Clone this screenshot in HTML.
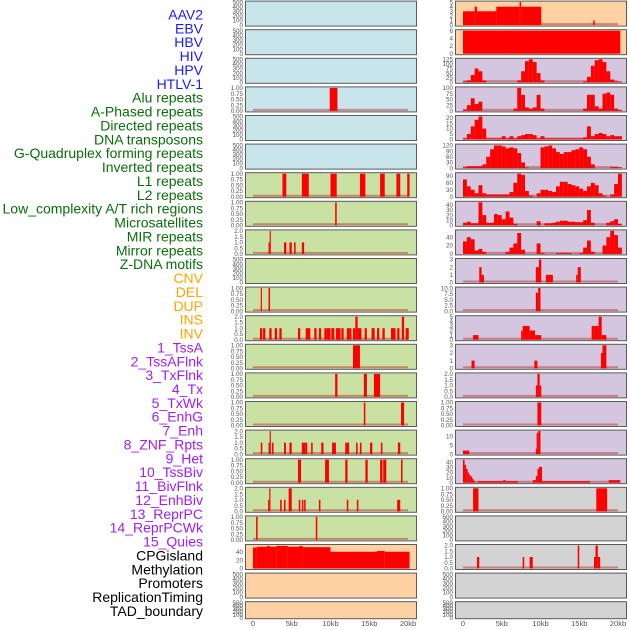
<!DOCTYPE html>
<html><head><meta charset="utf-8"><style>
html,body{margin:0;padding:0;background:#fff;width:630px;height:630px;overflow:hidden}
svg{display:block}
text{font-family:"Liberation Sans",sans-serif}
</style></head><body>
<svg id="chart" width="630" height="630" viewBox="0 0 630 630"></svg>
<script>
// ---------- DATA ----------
const trackLabels = ["AAV2","EBV","HBV","HIV","HPV","HTLV-1","Alu repeats","A-Phased repeats","Directed repeats","DNA transposons","G-Quadruplex forming repeats","Inverted repeats","L1 repeats","L2 repeats","Low_complexity A/T rich regions","Microsatellites","MIR repeats","Mirror repeats","Z-DNA motifs","CNV","DEL","DUP","INS","INV","1_TssA","2_TssAFlnk","3_TxFlnk","4_Tx","5_TxWk","6_EnhG","7_Enh","8_ZNF_Rpts","9_Het","10_TssBiv","11_BivFlnk","12_EnhBiv","13_ReprPC","14_ReprPCWk","15_Quies","CPGisland","Methylation","Promoters","ReplicationTiming","TAD_boundary"];
const labelGroups = [6,13,5,15,5];
const xTickLabels = ["0","5kb","10kb","15kb","20kb"];
const xTickValues = [0,5,10,15,20];

const emptyTicks = ["0","100","200","300","400","500"];
const unitTicks = ["0.00","0.25","0.50","0.75","1.00"];
const twoTicks = ["0.0","0.5","1.0","1.5","2.0"];

const leftMax = [500,500,500,1,500,500,1,1,2,500,1,2,1,1,1,2,1,2,1,55,500,500];
const leftTicks = [emptyTicks,emptyTicks,emptyTicks,unitTicks,emptyTicks,emptyTicks,unitTicks,unitTicks,twoTicks,emptyTicks,unitTicks,twoTicks,unitTicks,unitTicks,unitTicks,twoTicks,unitTicks,twoTicks,unitTicks,["0","20","40"],emptyTicks,emptyTicks];
const leftSegs3 = [[9.9,10.9,1]];
const leftSegs6 = [[3.8,4.3,1],[6.3,7.2,1],[10.0,10.8,1],[13.8,14.5,1],[16.4,17.0,1],[18.5,19.0,1],[19.9,20.2,1]];
const leftSegs7 = [[10.6,10.8,1]];
const leftSegs8 = [[2.0,2.15,1],[2.15,2.3,2],[4.0,4.3,1],[4.7,5.0,1],[5.3,5.5,1],[6.3,6.6,1]];
const leftSegs10 = [[1.0,1.15,1],[2.0,2.2,1]];
const leftBars11 = [0.9,1.3,2.1,2.8,3.4,5.8,6.8,7.1,7.9,8.5,9.2,9.5,9.7,10.1,10.2,10.7,10.8,11.0,11.4,12.1,12.4,12.9,13.2,13.5,13.7,14.4,15.3,15.4,16.0,16.7,17.8,17.9,18.1,18.6,19.2,19.7,19.8];
const leftVals11 = [1,1,1,1,1,1,1,1,1,1,1,1,1,1,1,1,1,1,1,1,1,1,2,1,1,1,1,1,1,1,1,1,1,1,2,1,1];
const leftSegs12 = [[12.9,13.8,1]];
const leftSegs13 = [[10.6,10.9,1],[14.3,14.7,1],[15.6,16.4,1]];
const leftSegs14 = [[14.3,14.5,1],[19.1,19.5,1]];
const leftSegs15 = [[1.0,1.2,1],[2.0,2.15,1],[2.15,2.3,2],[2.45,2.65,1],[4.0,4.25,1],[4.7,5.0,1],[6.3,6.8,1],[6.8,7.0,1],[7.5,7.7,1],[8.8,9.1,1],[10.2,10.7,1],[11.9,12.4,1],[13.3,13.5,1],[13.8,14.0,1],[15.1,15.4,1],[16.5,16.7,1],[18.7,19.0,1]];
const leftSegs16 = [[5.8,6.2,1],[9.3,9.8,1],[11.9,12.2,1],[14.5,14.8,1],[16.4,16.7,1],[16.8,17.2,1],[19.1,19.3,1]];
const leftSegs17 = [[1.95,2.1,1],[2.1,2.25,2],[3.5,3.7,1],[4.0,4.2,1],[4.6,5.0,2],[5.9,6.1,1],[6.3,6.5,1],[6.6,6.8,1],[8.5,8.7,1],[12.1,12.3,1],[13.4,13.6,1],[18.6,19.0,1]];
const leftSegs18 = [[0.4,0.6,1],[8.1,8.3,1]];
const leftSegs19 = [[0,0.5,50],[0.5,1.8,52],[1.8,2.2,54],[2.2,3.0,52],[3.0,4.5,54],[4.5,6.0,52],[6.0,6.4,54],[6.4,10.0,51],[10.0,16.0,40],[16.0,17.0,42],[17.0,20.2,40]];

const rightMax = [5,6,125,100,21,122,100,45,55,3,10,5,3,2,1,13,45,1,500,2,500,500];
const rightTicks = [["0","1","2","3","4","5"],["0","2","4","6"],["0","25","50","75","100","125"],["0","25","50","75","100"],["0","5","10","15","20"],["0","30","60","90","120"],["0","30","60","90"],["0","10","20","30","40"],["0","20","40"],["0","1","2","3"],["0.0","2.5","5.0","7.5","10.0"],["0","1","2","3","4","5"],["0","1","2","3"],twoTicks,unitTicks,["0","5","10"],["0","10","20","30","40"],unitTicks,emptyTicks,twoTicks,emptyTicks,emptyTicks];
const rightSegs0 = [[0,1.5,3],[1.5,1.8,4],[1.8,4.3,3],[4.3,7.3,4],[7.3,7.5,5],[7.5,10.1,4],[16.8,17.0,1]];
const rightSegs1 = [[0,20.3,6]];
const rightBins2 = [5,10,40,75,60,10,0,0,0,0,0,0,0,0,10,60,115,125,110,50,10,0,0,0,0,0,0,0,0,0,0,5,30,90,120,125,110,60,15,5,5];
const rightBins3 = [5,25,55,30,40,0,0,0,0,0,0,0,0,10,100,70,15,10,15,70,10,0,0,0,0,0,0,0,0,0,0,10,70,70,20,10,75,80,70,10,5];
const rightBins4 = [1,5,12,18,21,10,1,1,1,1,3,1,3,1,3,4,5,5,4,1,3,1,1,1,1,1,1,1,1,1,1,2,12,3,5,6,5,3,4,3,3];
const rightBins5 = [5,10,10,10,10,20,60,100,120,120,115,105,110,105,80,30,3,0,0,0,110,115,120,105,85,75,85,85,95,100,110,100,60,20,0,0,0,0,5,5,5];
const rightBins6 = [75,45,30,15,50,15,10,10,10,10,10,10,20,60,100,95,25,5,0,15,30,30,25,20,45,65,65,55,50,45,35,25,45,60,50,15,5,0,10,55,100];
const rightBins7 = [5,7,4,4,45,20,5,5,22,20,12,27,15,3,0,0,0,0,0,8,0,4,4,5,7,9,9,7,7,6,6,10,30,5,0,0,0,5,8,12,3];
const rightBins8 = [30,40,35,8,12,5,0,0,0,0,0,5,15,25,50,10,0,0,0,25,2,0,0,0,2,2,2,2,0,0,2,15,32,5,0,0,20,40,55,45,15];
const rightSegs9 = [[2.1,2.4,2],[2.4,2.7,1],[9.4,9.8,2],[9.8,10.1,3],[10.7,11.6,1],[14.6,14.8,1],[14.8,15.2,2]];
const rightSegs10 = [[9.4,9.7,8],[9.7,10.0,10]];
const rightSegs11 = [[1.3,2.0,1],[7.5,7.7,2],[7.7,8.6,3],[8.6,9.3,2],[9.3,10.1,1],[16.6,17.0,3],[17.0,17.5,3],[17.5,17.9,5],[17.9,18.5,1]];
const rightSegs12 = [[1.1,1.5,1],[9.2,9.6,1],[17.8,18.0,2],[18.0,18.5,3]];
const rightSegs13 = [[9.4,9.6,1],[9.6,9.9,2],[9.9,10.1,1]];
const rightSegs14 = [[9.6,10.1,1]];
const rightSegs15 = [[0,0.8,2],[9.4,9.5,3],[9.5,9.7,12],[9.7,10.0,13]];
const rightSegs16 = [[0,0.2,45],[0.2,0.4,35],[0.4,0.6,27],[0.6,0.8,20],[0.8,1.0,15],[1.0,1.2,12],[1.2,1.4,7],[1.4,1.6,3],[1.9,5.2,3],[5.2,5.5,5],[5.5,7.1,3],[9.0,9.4,5],[9.4,9.6,13],[9.6,9.8,27],[9.8,10.2,31],[10.2,16.4,3],[18.8,20.3,5]];
const rightSegs17 = [[1.3,2.0,1],[17.2,18.6,1]];
const rightSegs19 = [[1.8,2.1,1],[7.7,7.9,1],[8.6,9.0,1],[14.8,15.0,2],[16.9,17.1,1],[17.1,17.4,2],[17.4,17.7,1]];

const leftBg = ["#c9e5ec","#c9e5ec","#c9e5ec","#c9e5ec","#c9e5ec","#c9e5ec","#c9e2a3","#c9e2a3","#c9e2a3","#c9e2a3","#c9e2a3","#c9e2a3","#c9e2a3","#c9e2a3","#c9e2a3","#c9e2a3","#c9e2a3","#c9e2a3","#c9e2a3","#ffd1a3","#ffd1a3","#ffd1a3"];
const rightBg = ["#ffd1a3","#ffd1a3","#d5c6e0","#d5c6e0","#d5c6e0","#d5c6e0","#d5c6e0","#d5c6e0","#d5c6e0","#d5c6e0","#d5c6e0","#d5c6e0","#d5c6e0","#d5c6e0","#d5c6e0","#d5c6e0","#d5c6e0","#d3d3d3","#d3d3d3","#d3d3d3","#d3d3d3","#d3d3d3"];

// ---------- DRAW ----------
const NS="http://www.w3.org/2000/svg";
const svg=document.getElementById('chart');
function mk(tag,attrs,parent){const e=document.createElementNS(NS,tag);for(const k in attrs)e.setAttribute(k,attrs[k]);(parent||svg).appendChild(e);return e;}

const groupColors=["#1a1aff","#0a6e0a","#ffa500","#a020f0","#000000"];
let gi=0,cnt=0;
trackLabels.forEach((lab,i)=>{
  while(cnt>=labelGroups[gi]){gi++;cnt=0;}
  cnt++;
  const t=mk('text',{x:203,y:(19.5+i*13.87).toFixed(1),'text-anchor':'end','font-size':'14',fill:groupColors[gi]});
  
  
  t.textContent=lab;
});

const cols=[{x0:245,x1:416,zero:253,bg:leftBg,max:leftMax,ticks:leftTicks,name:'left'},{x0:455,x1:626,zero:463,bg:rightBg,max:rightMax,ticks:rightTicks,name:'right'}];
const pxPerKb=7.75;
function rowTop(i){return 0.6+i*28.6;}
function rowH(i){return i===21?17:25;}

const leftData={3:leftSegs3,6:leftSegs6,7:leftSegs7,8:leftSegs8,10:leftSegs10,12:leftSegs12,13:leftSegs13,14:leftSegs14,15:leftSegs15,16:leftSegs16,17:leftSegs17,18:leftSegs18,19:leftSegs19};
leftData[11]=leftBars11.map((s,k)=>[s,s+0.3,leftVals11[k]]);
function binsToSegs(b){return b.map((v,k)=>[k*0.5,k*0.5+0.5,v]);}
const rightData={0:rightSegs0,1:rightSegs1,2:binsToSegs(rightBins2),3:binsToSegs(rightBins3),4:binsToSegs(rightBins4),5:binsToSegs(rightBins5),6:binsToSegs(rightBins6),7:binsToSegs(rightBins7),8:binsToSegs(rightBins8),9:rightSegs9,10:rightSegs10,11:rightSegs11,12:rightSegs12,13:rightSegs13,14:rightSegs14,15:rightSegs15,16:rightSegs16,17:rightSegs17,19:rightSegs19};
const noBaseline={left:[19],right:[1]};

cols.forEach((c,ci)=>{
  const data=ci===0?leftData:rightData;
  const xS=kb=>c.zero+kb*pxPerKb;
  for(let i=0;i<22;i++){
    const top=rowTop(i),h=rowH(i);
    const g=mk('g',{});
    
    
    const r=mk('rect',{x:c.x0+0.5,y:top+0.5,width:c.x1-c.x0,height:h,fill:c.bg[i],stroke:'#5a5a5a','stroke-width':1},g);
    
    
    const y0=top+h-0.5, yT=top+1.5, mx=c.max[i];
    const yS=v=>y0-(v/mx)*(y0-yT);
    const segs=data[i];
    if(segs){
      if(noBaseline[c.name].indexOf(i)<0){
        const bl=mk('line',{x1:xS(0),x2:xS(20),y1:y0-1,y2:y0-1,stroke:'rgba(190,60,60,0.55)','stroke-width':2},g);
        
        
      }
      segs.forEach(s=>{
        if(s[2]<=0)return;
        const b=mk('rect',{x:xS(s[0]).toFixed(2),y:yS(s[2]).toFixed(2),width:Math.max(1.2,(s[1]-s[0])*pxPerKb).toFixed(2),height:(y0-yS(s[2])).toFixed(2),fill:'#ff0000'},g);
        
        
      });
    }
    const tk=c.ticks[i];
    tk.forEach(l=>{
      const v=parseFloat(l);
      const ty=y0-(v/(tk===emptyTicks?500:mx))*(y0-yT);
      const t=mk('text',{x:c.x0-2,y:(ty+2.2).toFixed(1),'text-anchor':'end','font-size':'6.3',fill:'#555'},g);
      
      
      t.textContent=l;
    });
  }
  xTickValues.forEach((v,k)=>{
    const t=mk('text',{x:xS(v),y:626,'text-anchor':'middle','font-size':'7.5',fill:'#555'});
    
    
    t.textContent=xTickLabels[k];
  });
});
</script>
</body></html>
